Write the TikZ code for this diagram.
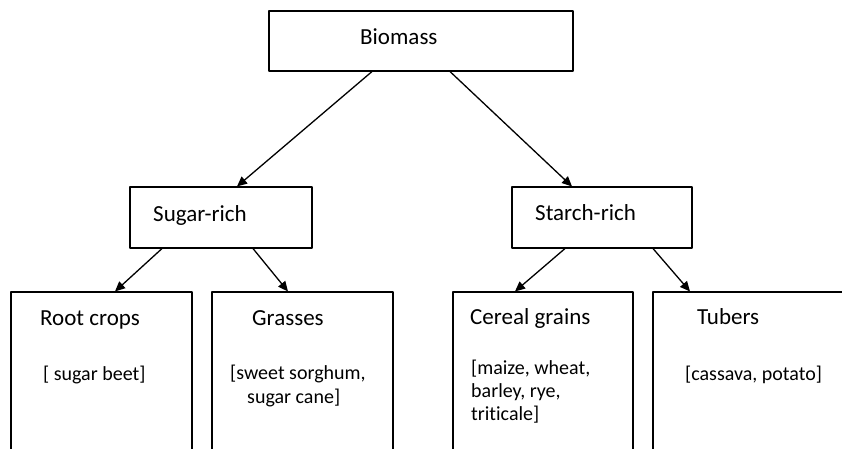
\documentclass[tikz,border=0pt]{standalone}
\usepackage{fontspec}
\setmainfont{Carlito}[Ligatures=NoCommon]
\usetikzlibrary{arrows.meta}
\begin{document}
\begin{tikzpicture}[x=1pt,y=-1pt,>={Triangle[length=10pt,width=9pt]},line join=round,
	box/.style={draw,line width=1.1pt,inner sep=0pt},
	head/.style={anchor=base west,inner sep=0pt,font=\fontsize{23}{27}\selectfont},
	item/.style={anchor=base west,inner sep=0pt,align=left,font=\fontsize{20}{21.5}\selectfont}]
	\clip (0,0) rectangle (842,449);
	% boxes
	\node[box,minimum width=304pt,minimum height=60pt] (bio) at (421,41) {};
	\node[box,minimum width=182pt,minimum height=61pt] (sugar) at (221,217.5) {};
	\node[box,minimum width=180pt,minimum height=61pt] (starch) at (602,217.5) {};
	\node[box,minimum width=181pt,minimum height=188pt] (root) at (101.5,386) {};
	\node[box,minimum width=181pt,minimum height=188pt] (grass) at (302.5,386) {};
	\node[box,minimum width=180pt,minimum height=188pt] (cereal) at (543,386) {};
	\node[box,minimum width=217pt,minimum height=188pt] (tuber) at (761.5,386) {};
	% texts (base = last line)
	\node[head] (tbio) at (360,45) {Biomass};
	\node[head] (tsugar) at (153,221) {Sugar-rich};
	\node[head] (tstarch) at (535,220) {Starch-rich};
	\node[head] (troot) at (40,325) {Root crops};
	\node[head] (tgrass) at (252,325) {Grasses};
	\node[head] (tcereal) at (470,324) {Cereal grains};
	\node[head] (ttuber) at (697,324) {Tubers};
	\node[item] (iroot) at (43,380) {[ sugar beet]};
	\node[item] (igrass) at (230,403) {[sweet sorghum,\\[2.5pt]\hspace*{17pt}sugar cane]};
	\node[item] (icereal) at (471,420) {[maize, wheat,\\[1.5pt]barley, rye,\\[1.5pt]triticale]};
	\node[item] (ituber) at (685,380) {[cassava, potato]};
	% arrows
	\foreach \a/\sa/\b/\sb in {bio/-49/sugar/16,bio/29/starch/-30,sugar/-59/root/13.5,sugar/32/grass/-14.5,starch/-37/cereal/-28,starch/51/tuber/-71.5}
		\draw[->,line width=1.3pt] ([xshift=\sa pt]\a.south)--([xshift=\sb pt]\b.north);
\end{tikzpicture}
\end{document}
